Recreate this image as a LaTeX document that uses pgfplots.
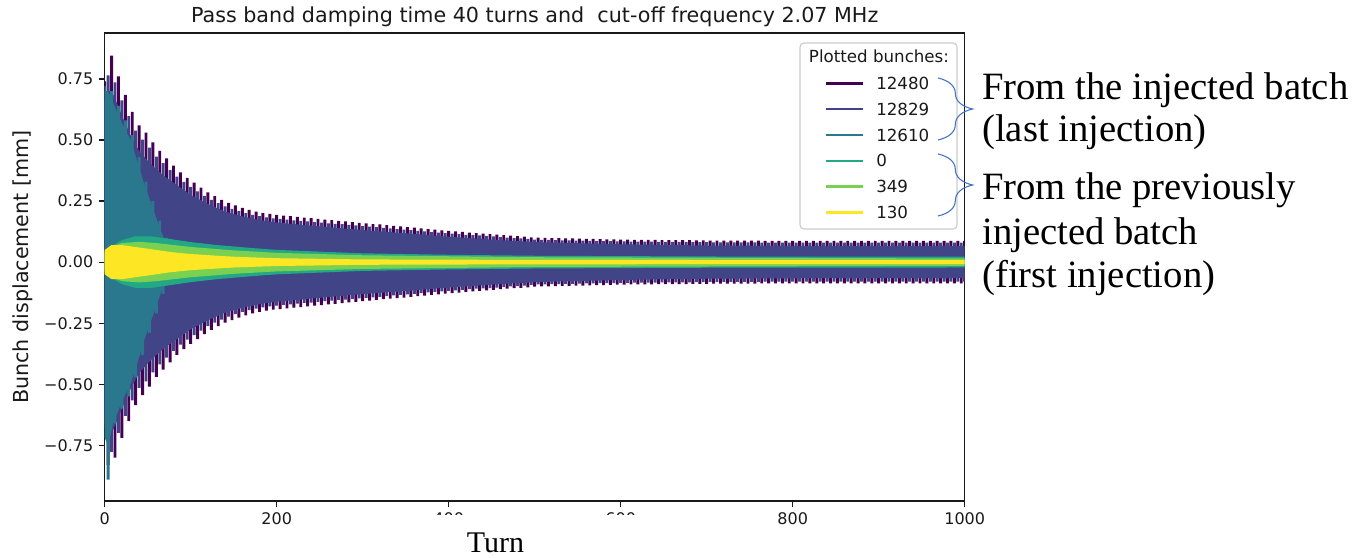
\documentclass[border=0pt]{standalone}
\usepackage{pgfplots}
\pgfplotsset{compat=1.18}
\usepackage{pgfplotstable}
\usepackage{fontspec}
\setmainfont{DejaVu Sans}
\newfontfamily\tnr{Liberation Serif}
\usetikzlibrary{decorations.pathreplacing}
\definecolor{v0}{RGB}{68,1,84}
\definecolor{v1}{RGB}{65,68,135}
\definecolor{v2}{RGB}{42,120,142}
\definecolor{v3}{RGB}{34,168,132}
\definecolor{v4}{RGB}{122,209,81}
\definecolor{v5}{RGB}{253,231,37}
\definecolor{braceblue}{RGB}{68,114,196}

% spikes of bunch 12480 (p) and 12829 (b)
\pgfplotstableread{
x p b
0 0.740 -0.681
4 -0.830 0.764
8 0.845 -0.777
12 -0.800 0.736
16 0.760 -0.699
20 -0.720 0.662
24 0.685 -0.630
28 -0.650 0.598
32 0.615 -0.566
36 -0.585 0.538
40 0.560 -0.515
44 -0.545 0.501
48 0.530 -0.488
52 -0.510 0.469
56 0.490 -0.451
60 -0.470 0.432
64 0.455 -0.419
68 -0.440 0.405
72 0.425 -0.391
76 -0.410 0.377
80 0.395 -0.363
84 -0.380 0.350
88 0.367 -0.338
92 -0.356 0.328
96 0.345 -0.317
100 -0.335 0.308
104 0.325 -0.299
108 -0.315 0.290
112 0.305 -0.281
116 -0.295 0.271
120 0.285 -0.262
124 -0.277 0.255
128 0.270 -0.248
132 -0.262 0.241
136 0.255 -0.235
140 -0.248 0.228
144 0.242 -0.223
148 -0.237 0.218
152 0.232 -0.213
156 -0.227 0.209
160 0.222 -0.204
164 -0.218 0.201
168 0.214 -0.197
172 -0.210 0.193
176 0.207 -0.190
180 -0.204 0.188
184 0.201 -0.185
188 -0.199 0.183
192 0.197 -0.181
196 -0.195 0.179
200 0.193 -0.178
204 -0.192 0.177
208 0.190 -0.175
212 -0.189 0.174
216 0.188 -0.173
220 -0.186 0.171
224 0.185 -0.170
228 -0.184 0.169
232 0.182 -0.167
236 -0.181 0.167
240 0.180 -0.166
244 -0.178 0.164
248 0.177 -0.163
252 -0.176 0.162
256 0.174 -0.160
260 -0.173 0.159
264 0.172 -0.158
268 -0.171 0.157
272 0.169 -0.155
276 -0.168 0.155
280 0.167 -0.154
284 -0.165 0.152
288 0.164 -0.151
292 -0.163 0.150
296 0.161 -0.148
300 -0.160 0.147
304 0.159 -0.146
308 -0.158 0.145
312 0.156 -0.144
316 -0.155 0.143
320 0.154 -0.142
324 -0.152 0.140
328 0.151 -0.139
332 -0.150 0.138
336 0.148 -0.136
340 -0.147 0.135
344 0.146 -0.134
348 -0.145 0.133
352 0.143 -0.132
356 -0.142 0.131
360 0.141 -0.130
364 -0.139 0.128
368 0.138 -0.127
372 -0.137 0.126
376 0.135 -0.124
380 -0.134 0.123
384 0.133 -0.122
388 -0.132 0.121
392 0.130 -0.120
396 -0.129 0.119
400 0.128 -0.118
404 -0.127 0.117
408 0.126 -0.116
412 -0.125 0.115
416 0.124 -0.114
420 -0.122 0.112
424 0.121 -0.111
428 -0.120 0.110
432 0.119 -0.109
436 -0.118 0.109
440 0.117 -0.108
444 -0.116 0.107
448 0.115 -0.106
452 -0.114 0.105
456 0.113 -0.104
460 -0.111 0.102
464 0.110 -0.101
468 -0.109 0.100
472 0.108 -0.099
476 -0.107 0.098
480 0.106 -0.098
484 -0.105 0.097
488 0.104 -0.096
492 -0.103 0.095
496 0.101 -0.093
500 -0.100 0.092
504 0.100 -0.091
508 -0.099 0.091
512 0.099 -0.091
516 -0.099 0.091
520 0.098 -0.090
524 -0.098 0.090
528 0.098 -0.090
532 -0.097 0.089
536 0.097 -0.089
540 -0.097 0.089
544 0.097 -0.089
548 -0.096 0.088
552 0.096 -0.088
556 -0.096 0.088
560 0.095 -0.087
564 -0.095 0.087
568 0.095 -0.087
572 -0.094 0.086
576 0.094 -0.086
580 -0.094 0.086
584 0.093 -0.086
588 -0.093 0.086
592 0.093 -0.086
596 -0.092 0.085
600 0.092 -0.085
604 -0.092 0.085
608 0.092 -0.085
612 -0.091 0.084
616 0.091 -0.084
620 -0.091 0.084
624 0.091 -0.084
628 -0.091 0.084
632 0.091 -0.084
636 -0.091 0.084
640 0.091 -0.084
644 -0.090 0.083
648 0.090 -0.083
652 -0.090 0.083
656 0.090 -0.083
660 -0.090 0.083
664 0.090 -0.083
668 -0.090 0.083
672 0.090 -0.083
676 -0.090 0.083
680 0.090 -0.083
684 -0.089 0.082
688 0.089 -0.082
692 -0.089 0.082
696 0.089 -0.082
700 -0.089 0.082
704 0.088 -0.081
708 -0.088 0.081
712 0.088 -0.081
716 -0.088 0.081
720 0.088 -0.081
724 -0.088 0.081
728 0.088 -0.081
732 -0.088 0.081
736 0.088 -0.081
740 -0.088 0.081
744 0.088 -0.081
748 -0.088 0.081
752 0.088 -0.081
756 -0.088 0.081
760 0.088 -0.081
764 -0.087 0.080
768 0.087 -0.080
772 -0.087 0.080
776 0.087 -0.080
780 -0.087 0.080
784 0.087 -0.080
788 -0.087 0.080
792 0.087 -0.080
796 -0.087 0.080
800 0.087 -0.080
804 -0.087 0.080
808 0.087 -0.080
812 -0.087 0.080
816 0.087 -0.080
820 -0.087 0.080
824 0.087 -0.080
828 -0.087 0.080
832 0.087 -0.080
836 -0.087 0.080
840 0.087 -0.080
844 -0.087 0.080
848 0.087 -0.080
852 -0.087 0.080
856 0.087 -0.080
860 -0.087 0.080
864 0.087 -0.080
868 -0.087 0.080
872 0.087 -0.080
876 -0.087 0.080
880 0.087 -0.080
884 -0.087 0.080
888 0.087 -0.080
892 -0.087 0.080
896 0.087 -0.080
900 -0.087 0.080
904 0.087 -0.080
908 -0.087 0.080
912 0.087 -0.080
916 -0.087 0.080
920 0.087 -0.080
924 -0.087 0.080
928 0.087 -0.080
932 -0.087 0.080
936 0.087 -0.080
940 -0.087 0.080
944 0.087 -0.080
948 -0.087 0.080
952 0.087 -0.080
956 -0.087 0.080
960 0.087 -0.080
964 -0.087 0.080
968 0.087 -0.080
972 -0.087 0.080
976 0.087 -0.080
980 -0.087 0.080
984 0.087 -0.080
988 -0.087 0.080
992 0.087 -0.080
996 -0.087 0.080
1000 0.087 -0.080
}\spikes

% spikes of bunch 12610
\pgfplotstableread{
x t
0 0.72
4 -0.89
8 0.70
12 -0.66
16 0.64
20 -0.60
24 0.58
28 -0.55
32 0.52
36 -0.47
40 0.43
44 -0.38
48 0.33
52 -0.29
56 0.25
60 -0.21
64 0.17
68 -0.13
72 0.10
76 -0.07
}\tealspikes

\begin{document}
\begin{tikzpicture}
\begin{scope}[x=0.75pt,y=0.75pt,shift={(-78.525pt,375.75pt)}]
\useasboundingbox (0,0) rectangle (1352,-557);
\end{scope}
\begin{axis}[
  at={(0,0)}, anchor=south west,
  scale only axis, width=645pt, height=351pt,
  xmin=0, xmax=1000, ymin=-0.978, ymax=0.938,
  axis line style={line width=0.9pt, black!90},
  tick style={line width=0.9pt, black!90},
  tick align=outside, tick pos=left, major tick length=4.2pt,
  xtick={0,200,400,600,800,1000},
  xticklabels={0,200,400,600,800,1000},
  ytick={-0.75,-0.5,-0.25,0,0.25,0.5,0.75},
  yticklabels={−0.75,−0.50,−0.25,0.00,0.25,0.50,0.75},
  /pgf/number format/assume math mode=true,
  tick label style={font=\fontsize{12}{14}\selectfont, color=black!90},
  xticklabel style={inner sep=0pt, yshift=-4.2pt},
  yticklabel style={inner sep=0pt, xshift=-4.2pt},
  ylabel={Bunch displacement [mm]},
  ylabel style={font=\fontsize{15.5}{18}\selectfont, at={(axis description cs:-0.095,0.5)}, anchor=center, color=black!90},
  title={Pass band damping time 40 turns and\ \ cut-off frequency 2.07 MHz},
  title style={font=\fontsize{15.5}{18}\selectfont, at={(axis description cs:0.5,1)}, anchor=base, yshift=1.5pt, inner sep=0pt, color=black!90},
]
% 12480
\addplot[ybar, bar width=2.2pt, bar shift=0pt, fill=v0, draw=none] table[x=x,y=p] {\spikes};
% 12829
\addplot[fill=v1, draw=none] coordinates {
(0,0.66) (4,0.70) (8,0.70) (12,0.67) (20,0.60) (30,0.52) (40,0.455) (50,0.415) (60,0.38) (70,0.35) (80,0.325) (90,0.30) (100,0.275) (120,0.238) (140,0.207) (160,0.187) (180,0.172) (200,0.162) (250,0.146) (300,0.131) (350,0.118) (400,0.104) (450,0.092) (500,0.082) (600,0.073) (700,0.068) (800,0.066) (1000,0.065)
(1000,-0.065) (800,-0.066) (700,-0.068) (600,-0.073) (500,-0.082) (450,-0.092) (400,-0.104) (350,-0.118) (300,-0.131) (250,-0.146) (200,-0.162) (180,-0.172) (160,-0.187) (140,-0.207) (120,-0.238) (100,-0.275) (90,-0.30) (80,-0.325) (70,-0.35) (60,-0.38) (50,-0.415) (40,-0.455) (30,-0.52) (20,-0.60) (12,-0.67) (8,-0.70) (4,-0.70) (0,-0.66)};
\addplot[ybar, bar width=2.2pt, bar shift=0pt, fill=v1, draw=none] table[x=x,y=b] {\spikes};
% 12610
\addplot[fill=v2, draw=none] coordinates {
(0,0.70) (4,0.70) (10,0.65) (20,0.57) (30,0.50) (40,0.39) (45,0.33) (50,0.28) (55,0.23) (60,0.18) (65,0.13) (70,0.09) (80,0.05) (100,0.03) (200,0.015) (1000,0.008)
(1000,-0.008) (200,-0.015) (100,-0.03) (80,-0.05) (70,-0.09) (65,-0.13) (60,-0.18) (55,-0.23) (50,-0.28) (45,-0.33) (40,-0.39) (30,-0.50) (20,-0.57) (10,-0.66) (4,-0.75) (0,-0.72)};
\addplot[ybar, bar width=2.2pt, bar shift=0pt, fill=v2, draw=none] table[x=x,y=t] {\tealspikes};
% 0
\addplot[fill=v3, draw=none] coordinates {
(0,0.03) (10,0.07) (20,0.09) (35,0.105) (55,0.105) (75,0.095) (100,0.082) (130,0.07) (170,0.058) (200,0.05) (300,0.036) (400,0.03) (500,0.026) (700,0.023) (1000,0.022)
(1000,-0.022) (700,-0.023) (500,-0.026) (400,-0.03) (300,-0.036) (200,-0.05) (170,-0.058) (130,-0.07) (100,-0.082) (75,-0.095) (55,-0.105) (35,-0.105) (20,-0.09) (10,-0.07) (0,-0.03)};
% 349
\addplot[fill=v4, draw=none] coordinates {
(0,0.04) (10,0.065) (20,0.078) (40,0.083) (60,0.078) (80,0.07) (100,0.062) (150,0.048) (200,0.038) (300,0.028) (500,0.02) (1000,0.015)
(1000,-0.015) (500,-0.02) (300,-0.028) (200,-0.038) (150,-0.048) (100,-0.062) (80,-0.07) (60,-0.078) (40,-0.083) (20,-0.078) (10,-0.065) (0,-0.04)};
% 130
\addplot[fill=v5, draw=none] coordinates {
(0,0.05) (8,0.07) (20,0.07) (35,0.062) (50,0.055) (75,0.042) (100,0.033) (150,0.022) (200,0.016) (300,0.011) (500,0.009) (1000,0.008)
(1000,-0.008) (500,-0.009) (300,-0.011) (200,-0.016) (150,-0.022) (100,-0.033) (75,-0.042) (50,-0.055) (35,-0.062) (20,-0.07) (8,-0.07) (0,-0.05)};
\end{axis}
\begin{scope}[x=0.75pt,y=0.75pt,shift={(-78.525pt,375.75pt)}]
% legend
\draw[black!20, fill=white, fill opacity=0.85, line width=0.9pt, rounded corners=3pt] (800,-43) rectangle (957,-229);
\node[anchor=base, inner sep=0pt, font=\fontsize{12.5}{15}\selectfont, color=black!90] at (879,-63) {Plotted bunches:};
\foreach \yy/\cc/\lab in {83.5/v0/12480, 109.3/v1/12829, 135.1/v2/12610, 160.9/v3/0, 186.7/v4/349, 212.5/v5/130}{
  \draw[\cc, line width=1.8pt] (826,-\yy) -- (863,-\yy);
  \node[anchor=west, inner sep=0pt, font=\fontsize{12.5}{15}\selectfont, color=black!90] at (876,-\yy) {\lab};
}
% braces
\draw[braceblue, line width=0.8pt, decorate, decoration={brace, amplitude=26pt}] (938,-78) -- (938,-140);
\draw[braceblue, line width=0.8pt, decorate, decoration={brace, amplitude=26pt}] (938,-154) -- (938,-216);
% annotations
\begin{scope}[every node/.style={anchor=base west, inner sep=0pt, font=\tnr\fontsize{29}{34}\selectfont}]
\node at (982,-100) {From the injected batch};
\node at (982,-142) {(last injection)};
\node at (982,-200) {From the previously};
\node at (982,-245) {injected batch};
\node at (982,-288) {(first injection)};
\end{scope}
% x label box
\fill[white] (300,-515) rectangle (760,-557);
\node[anchor=base, inner sep=0pt, font=\tnr\fontsize{22.5}{26}\selectfont] at (495.5,-552) {Turn};
\end{scope}
\end{tikzpicture}
\end{document}
